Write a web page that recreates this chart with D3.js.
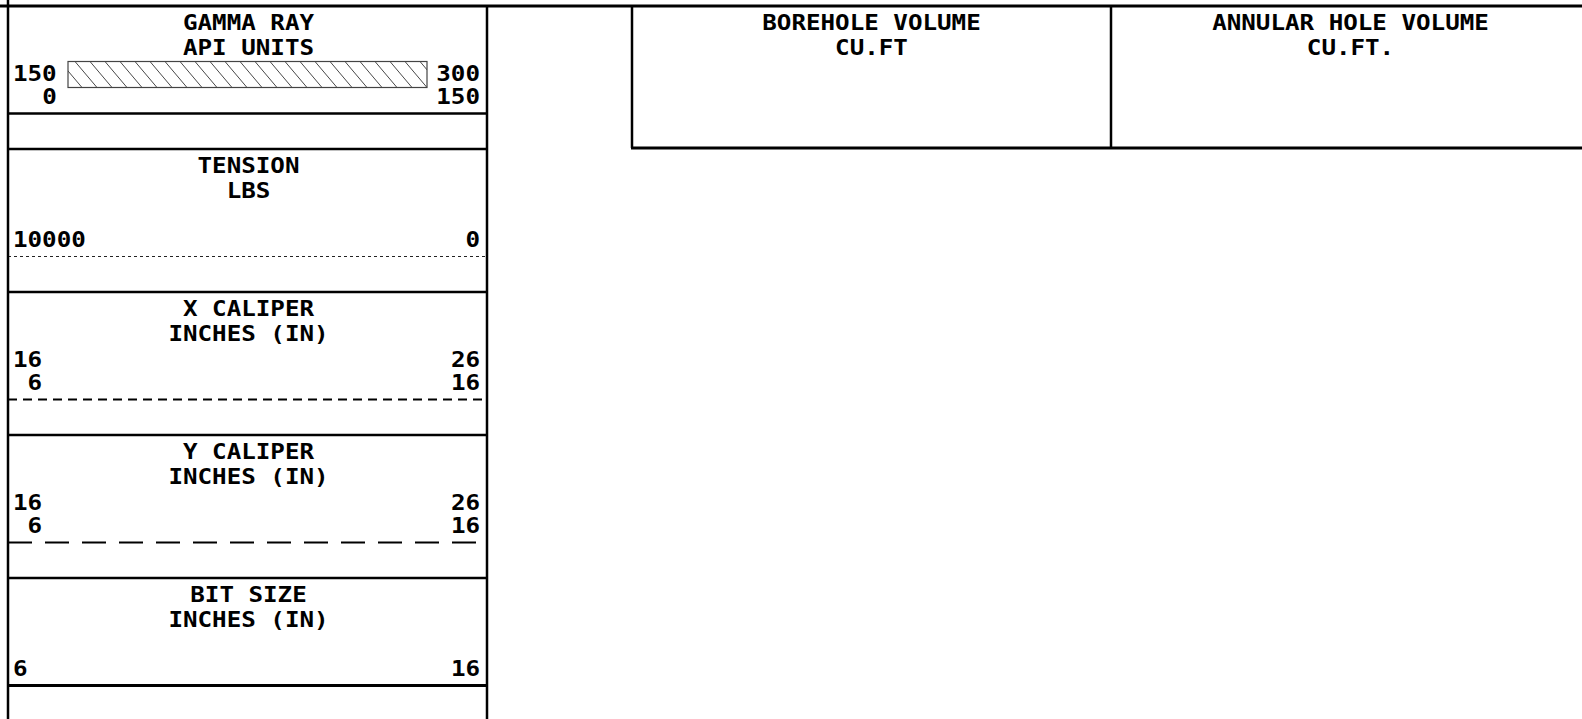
<!DOCTYPE html>
<html>
<head>
<meta charset="utf-8">
<script src="https://cdn.jsdelivr.net/npm/d3@7"></script>
<style>
  html, body { margin: 0; padding: 0; background: #fff; overflow: hidden; }
  text { font-family: "DejaVu Sans Mono", monospace; font-weight: bold; fill: #000; }
</style>
</head>
<body>
<div id="log-header"></div>
<script>
(function() {
    // curve header data, top to bottom
    const curveNames = ["GAMMA RAY", "TENSION", "X CALIPER", "Y CALIPER", "BIT SIZE"];
    const curveUnits = ["API UNITS", "LBS", "INCHES (IN)", "INCHES (IN)", "INCHES (IN)"];
    const mainScales = [[150, 300], [10000, 0], [16, 26], [16, 26], [6, 16]];
    const backupScales = [[0, 150], null, [6, 16], [6, 16], null];
    const lineKinds = ["fill", "dotted", "dashed", "longdash", "solid"];

    // volume tracks on the right
    const volumeNames = ["BOREHOLE VOLUME", "ANNULAR HOLE VOLUME"];
    const volumeUnits = ["CU.FT", "CU.FT."];

    const width = 1582;
    const height = 719;

    const panelLeft = 8;
    const panelRight = 487;
    const sectionTop = 6;
    const sectionH = 143;
    const labelPad = 5;

    const volLeft = 632;
    const volRight = 1590;
    const volBottom = 148;

    const fontSize = 22;
    const stretch = 1.1;
    const advance = 0.602 * fontSize * stretch;

    const svg = d3.select("#log-header")
        .append("svg")
        .attr("width", width)
        .attr("height", height);

    svg.append("rect")
        .attr("width", width)
        .attr("height", height)
        .attr("fill", "#fff");

    const yPos = d3.scaleLinear()
        .domain([0, 1])
        .range([sectionTop, sectionTop + sectionH]);

    // stretched mono text like the log printer
    function label(g, x, y, str, anchor) {
        g.append("g")
            .attr("transform", "translate(" + x + "," + y + ")")
            .append("text")
            .attr("transform", "scale(" + stretch + ",1)")
            .attr("text-anchor", anchor)
            .attr("font-size", fontSize)
            .text(str);
    }

    const dashes = {
        dotted: "3,3",
        dashed: "9,6",
        longdash: "24,13"
    };

    const sections = svg.append("g");

    curveNames.forEach((name, i) => {
        const top = yPos(i);
        const g = sections.append("g");
        const x = d3.scaleLinear()
            .domain(mainScales[i])
            .range([panelLeft + labelPad, panelRight - 7]);

        const mid = (panelLeft + panelRight) / 2;
        label(g, mid + 1, top + 24, name, "middle");
        label(g, mid + 1, top + 48.5, curveUnits[i], "middle");

        const dom = mainScales[i];
        const backup = backupScales[i];
        const rowMain = backup ? top + 74.5 : top + 98;
        label(g, x(dom[0]), rowMain, String(dom[0]), "start");
        label(g, x(dom[1]), rowMain, String(dom[1]), "end");

        if (backup) {
            const xb = d3.scaleLinear()
                .domain(backup)
                .range([panelLeft + labelPad, panelRight - 7]);
            // backup scale right-aligned under the main labels
            const leftEdge = x(dom[0]) + String(dom[0]).length * advance;
            label(g, leftEdge, top + 97.5, String(backup[0]), "end");
            label(g, xb(backup[1]), top + 97.5, String(backup[1]), "end");
        }

        const lineY = top + 107.5;
        const kind = lineKinds[i];
        if (kind === "fill") {
            g.append("line")
                .attr("x1", panelLeft).attr("x2", panelRight)
                .attr("y1", lineY).attr("y2", lineY)
                .attr("stroke", "#000").attr("stroke-width", 2.5);

            // hatched shading sample
            const bx0 = 68, bx1 = 427, by0 = top + 55.5, by1 = top + 81.5;
            const clipId = "hatch-clip";
            svg.append("clipPath").attr("id", clipId)
                .append("rect")
                .attr("x", bx0).attr("y", by0)
                .attr("width", bx1 - bx0).attr("height", by1 - by0);
            g.append("rect")
                .attr("x", bx0).attr("y", by0)
                .attr("width", bx1 - bx0).attr("height", by1 - by0)
                .attr("fill", "#fff");
            g.append("g")
                .attr("clip-path", "url(#" + clipId + ")")
                .selectAll("line")
                .data(d3.range(bx0 - 8, bx1 + 2, 15))
                .enter()
                .append("line")
                .attr("x1", d => d)
                .attr("y1", by0)
                .attr("x2", d => d + 22)
                .attr("y2", by1)
                .attr("stroke", "#333")
                .attr("stroke-width", 0.9);
            g.append("rect")
                .attr("x", bx0).attr("y", by0)
                .attr("width", bx1 - bx0).attr("height", by1 - by0)
                .attr("fill", "none")
                .attr("stroke", "#444")
                .attr("stroke-width", 1.2);
        } else if (kind === "solid") {
            g.append("line")
                .attr("x1", panelLeft).attr("x2", panelRight)
                .attr("y1", lineY).attr("y2", lineY)
                .attr("stroke", "#000").attr("stroke-width", 3);
        } else {
            g.append("line")
                .attr("x1", panelLeft).attr("x2", panelRight)
                .attr("y1", lineY).attr("y2", lineY)
                .attr("stroke", kind === "dotted" ? "#222" : "#000")
                .attr("stroke-width", kind === "dotted" ? 1 : 2)
                .attr("stroke-dasharray", dashes[kind]);
        }

        // section boundary below
        g.append("line")
            .attr("x1", panelLeft).attr("x2", panelRight)
            .attr("y1", yPos(i + 1)).attr("y2", yPos(i + 1))
            .attr("stroke", "#000").attr("stroke-width", 2.5);
    });

    // panel frame
    svg.append("line")
        .attr("x1", 0).attr("x2", width)
        .attr("y1", sectionTop).attr("y2", sectionTop)
        .attr("stroke", "#000").attr("stroke-width", 3);
    svg.append("line")
        .attr("x1", panelLeft).attr("x2", panelLeft)
        .attr("y1", 0).attr("y2", height)
        .attr("stroke", "#000").attr("stroke-width", 2.5);
    svg.append("line")
        .attr("x1", panelRight).attr("x2", panelRight)
        .attr("y1", sectionTop).attr("y2", height)
        .attr("stroke", "#000").attr("stroke-width", 2.5);

    // volume tracks
    const vx = d3.scaleBand()
        .domain(volumeNames)
        .range([volLeft, 2 * 1111 - volLeft]);

    const vol = svg.append("g");
    volumeNames.forEach((name, i) => {
        const cx = vx(name) + vx.bandwidth() / 2;
        label(vol, cx, sectionTop + 24, name, "middle");
        label(vol, cx, sectionTop + 48.5, volumeUnits[i], "middle");
        vol.append("line")
            .attr("x1", vx(name)).attr("x2", vx(name))
            .attr("y1", sectionTop).attr("y2", volBottom)
            .attr("stroke", "#000").attr("stroke-width", 2.5);
    });
    vol.append("line")
        .attr("x1", volLeft - 1).attr("x2", volRight)
        .attr("y1", volBottom).attr("y2", volBottom)
        .attr("stroke", "#000").attr("stroke-width", 3);
})()
</script>
</body>
</html>
